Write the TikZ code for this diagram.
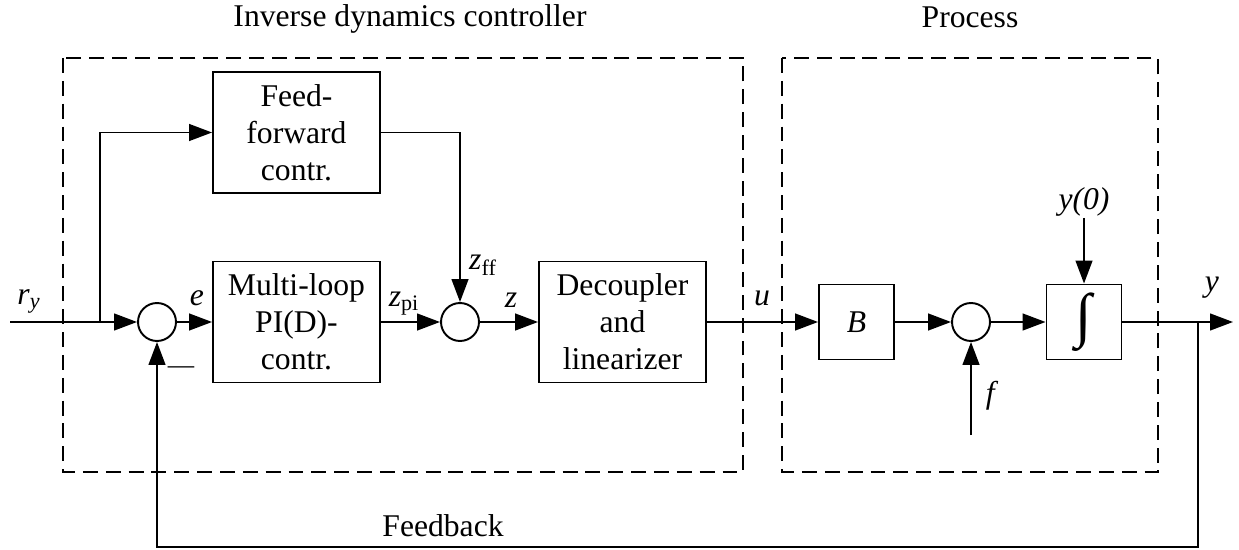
\documentclass[tikz,border=0pt]{standalone}
\usepackage{fontspec}
\setmainfont{Liberation Serif}
\usetikzlibrary{arrows.meta}

\begin{document}
\begin{tikzpicture}[x=0.02cm, y=-0.02cm, line width=1.1pt, line join=miter,
                    font=\fontsize{18}{21}\selectfont]

                \pgfmathsetmacro{\ym}{322}

                \tikzset{
                  block/.style   = {draw, minimum width=3.34cm, minimum height=2.42cm, align=center, inner sep=0pt},
                  sqblock/.style = {draw, minimum width=1.5cm, minimum height=1.5cm, inner sep=0pt},
                  sumpt/.style   = {draw, circle, minimum size=0.76cm, inner sep=0pt},
                  sig/.style     = {-{Triangle[length=13pt,width=9.5pt]}},
                  frame/.style   = {dash pattern=on 8.5pt off 4.5pt},
                  lbl/.style     = {inner sep=0pt}
                }

                \useasboundingbox (0,0) rectangle (1239,550);

                % dashed frames and titles
                \draw[frame] (63,58) rectangle (743,472);
                \draw[frame] (782,58) rectangle (1158,472);
                \node[lbl, anchor=base] (ctrltitle) at (410,27) {Inverse dynamics controller};
                \node[lbl, anchor=base] (proctitle) at (970,28) {Process};

                % blocks
                \node[block] (ff)  at (296.5,132.5) {Feed-\\forward\\contr.};
                \node[block] (pid) at (296.5,\ym)   {Multi-loop\\PI(D)-\\contr.};
                \node[block] (dec) at (622.5,\ym)   {Decoupler\\and\\linearizer};
                \node[sqblock] (bmat)  at (856.5,\ym) {\textit{B}};
                \node[sqblock] (integ) at (1084,\ym)  {\fontsize{34}{34}\selectfont ∫};

                % summing points
                \node[sumpt] (sA) at (157,\ym) {};
                \node[sumpt] (sB) at (460,\ym) {};
                \node[sumpt] (sC) at (971,\ym) {};

                % free ends
                \coordinate (ryin)    at (10,\ym);
                \coordinate (ffsplit) at (100,\ym);
                \coordinate (ysplit)  at (1198,\ym);
                \coordinate (yout)    at (1233,\ym);
                \coordinate (fin)     at (971,435);
                \coordinate (y0in)    at (1084,218);

                % signals
                \draw[sig] (ryin) -- (sA);
                \draw[sig] (ffsplit) |- (ff);
                \draw[sig] (ff) -| (sB);
                \draw[sig] (sA) -- (pid);
                \draw[sig] (pid) -- (sB);
                \draw[sig] (sB) -- (dec);
                \draw[sig] (dec) -- (bmat);
                \draw[sig] (bmat) -- (sC);
                \draw[sig] (sC) -- (integ);
                \draw[sig] (integ) -- (yout);
                \draw[sig] (fin) -- (sC);
                \draw[sig] (y0in) -- (integ);
                \draw[sig] (ysplit) -- ++(0,225) -| (sA);

                % labels
                \node[lbl, anchor=base] (rylbl)  at (29,304)   {\textit{r}\textsubscript{\textit{y}}};
                \node[lbl, anchor=base] (elbl)   at (197,305)  {\textit{e}};
                \node[lbl, anchor=base] (zpilbl) at (404,306)  {\textit{z}\textsubscript{pi}};
                \node[lbl, anchor=base] (zfflbl) at (483,270)  {\textit{z}\textsubscript{ff}};
                \node[lbl, anchor=base] (zlbl)   at (511,307)  {\textit{z}};
                \node[lbl, anchor=base] (ulbl)   at (762,305)  {\textit{u}};
                \node[lbl, anchor=base] (ylbl)   at (1212,292) {\textit{y}};
                \node[lbl, anchor=base] (y0lbl)  at (1084,210) {\textit{y(0)}};
                \node[lbl, anchor=base] (flbl)   at (992,403)  {\textit{f}};
                \node[lbl] (minus) at (181,370) {\fontsize{15}{15}\selectfont —};
                \node[lbl, anchor=base] (fblbl)  at (443,536)  {Feedback};
\end{tikzpicture}
\end{document}
